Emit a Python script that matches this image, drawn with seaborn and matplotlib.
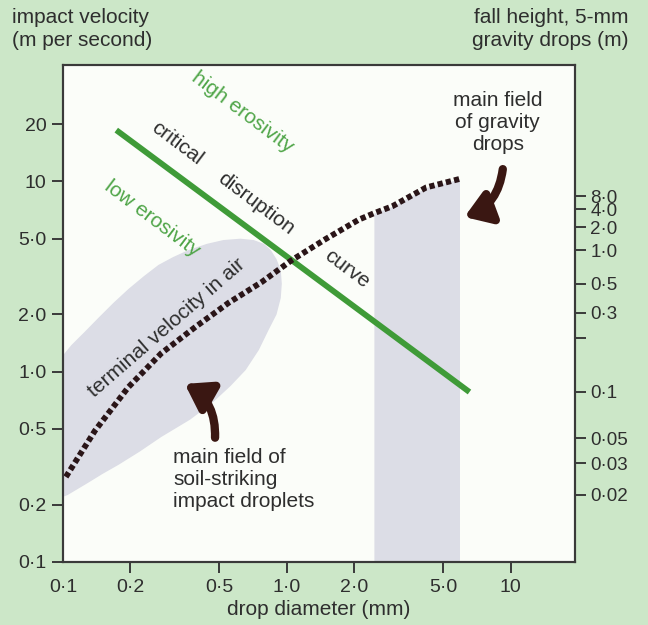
import numpy as np
import pandas as pd
import matplotlib
matplotlib.use("Agg")
import matplotlib.pyplot as plt
import seaborn as sns
from matplotlib.ticker import FixedLocator, FixedFormatter, NullLocator

# ---------------- data ----------------
drop_diam_ticks = [0.1, 0.2, 0.5, 1.0, 2.0, 5.0, 10]
drop_diam_labels = ["0·1", "0·2", "0·5", "1·0", "2·0", "5·0", "10"]
velocity_ticks = [0.1, 0.2, 0.5, 1.0, 2.0, 5.0, 10, 20]
velocity_labels = ["0·1", "0·2", "0·5", "1·0", "2·0", "5·0", "10", "20"]
# right axis: fall height (m) of 5-mm drops, placed at equivalent impact velocity
fall_height_tick_velocity = [8.38, 7.14, 5.74, 4.36, 2.89, 2.04, 1.50, 0.785, 0.447, 0.330, 0.225]
fall_height_labels = ["8·0", "4·0", "2·0", "1·0", "0·5", "0·3", "", "0·1", "0·05", "0·03", "0·02"]

# terminal velocity in air (dotted curve)
terminal_diam = [0.103, 0.139, 0.196, 0.275, 0.391, 0.549, 0.773, 1.05, 1.5, 2.1, 2.45, 2.96, 4.2, 5.91]
terminal_vel = [0.28, 0.49, 0.83, 1.25, 1.72, 2.3, 2.96, 3.85, 5.0, 6.3, 6.8, 7.4, 9.3, 10.3]

# critical disruption curve (green)
critical_diam = [0.173, 6.55]
critical_vel = [18.6, 0.782]

# main field of soil-striking impact droplets (outline)
soil_field_diam = [0.1, 0.109, 0.125, 0.144, 0.168, 0.196, 0.23, 0.267, 0.31, 0.364, 0.44, 0.521,
                   0.62, 0.711, 0.79, 0.848, 0.9, 0.94, 0.95, 0.94, 0.9, 0.83, 0.75, 0.655,
                   0.56, 0.461, 0.37, 0.275, 0.22, 0.177, 0.15, 0.129, 0.105, 0.1]
soil_field_vel = [1.22, 1.38, 1.62, 1.92, 2.3, 2.72, 3.18, 3.64, 4.0, 4.36, 4.7, 4.92,
                  5.0, 4.92, 4.7, 4.36, 3.9, 3.42, 2.9, 2.44, 2.0, 1.66, 1.3, 1.02,
                  0.84, 0.68, 0.56, 0.454, 0.38, 0.324, 0.29, 0.26, 0.225, 0.22]

# main field of gravity drops: diameters from this value up to the end of the terminal curve
gravity_field_min_diam = 2.45

x_limits = (0.1, 19.4)
y_limits = (0.1, 40.9)

# ---------------- style ----------------
sns.set_theme(style="ticks")
plt.rcParams["font.family"] = ["Liberation Sans", "DejaVu Sans"]

BG = "#cce7c8"
TXT = "#2e2e2e"
GREEN_LINE = "#3f9b38"
GREEN_TXT = "#4fa548"
DOT = "#2a1518"
FIELD = "#dcdde6"
ARROW = "#3a1712"
SPINE = "#3a3a3a"
FS = 15

fig = plt.figure(figsize=(6.48, 6.25), dpi=100, facecolor=BG)
ax = fig.add_axes([63 / 648, 1 - 562 / 625, 512 / 648, 497 / 625])
ax.set_facecolor("#fbfdf9")
ax.set_xscale("log")
ax.set_yscale("log")
ax.set_xlim(*x_limits)
ax.set_ylim(*y_limits)

# fields
ax.fill(soil_field_diam, soil_field_vel, color=FIELD, lw=0, zorder=1)
td = np.array(terminal_diam)
tv = np.array(terminal_vel)
mask = td >= gravity_field_min_diam
ax.fill_between(td[mask], y_limits[0], tv[mask], color=FIELD, lw=0, zorder=1)

# curves
sns.lineplot(x=critical_diam, y=critical_vel, ax=ax, color=GREEN_LINE, lw=4.2,
             solid_capstyle="butt", sort=False, estimator=None, zorder=3)
sns.lineplot(x=terminal_diam, y=terminal_vel, ax=ax, color=DOT, lw=4.2,
             linestyle=(0, (0.9, 0.55)), dash_capstyle="butt", sort=False,
             estimator=None, zorder=4)

# ticks
ax.xaxis.set_major_locator(FixedLocator(drop_diam_ticks))
ax.xaxis.set_major_formatter(FixedFormatter(drop_diam_labels))
ax.xaxis.set_minor_locator(NullLocator())
ax.yaxis.set_major_locator(FixedLocator(velocity_ticks))
ax.yaxis.set_major_formatter(FixedFormatter(velocity_labels))
ax.yaxis.set_minor_locator(NullLocator())
ax.tick_params(axis="both", which="major", direction="out", length=8, width=1.4,
               color=SPINE, labelcolor=TXT, labelsize=14, pad=4)
# no tick marks at the lower-left corner (labels only)
ax.xaxis.get_major_ticks()[0].tick1line.set_visible(False)
ax.yaxis.get_major_ticks()[0].tick1line.set_visible(False)

ax2 = ax.twinx()
ax2.set_yscale("log")
ax2.set_ylim(*y_limits)
ax2.yaxis.set_major_locator(FixedLocator(fall_height_tick_velocity))
ax2.yaxis.set_major_formatter(FixedFormatter(fall_height_labels))
ax2.yaxis.set_minor_locator(NullLocator())
ax2.tick_params(axis="y", direction="out", length=8, width=1.4, color=SPINE,
                labelcolor=TXT, labelsize=13.5, pad=3)

for a in (ax, ax2):
    for s in a.spines.values():
        s.set_visible(True)
        s.set_color(SPINE)
        s.set_linewidth(1.5)

ax.set_xlabel("drop diameter (mm)", fontsize=FS, color=TXT, labelpad=3)

fig.text(12 / 648, 1 - 8 / 625, "impact velocity\n(m per second)", ha="left", va="top",
         fontsize=FS, color=TXT, linespacing=1.3)
fig.text(628 / 648, 1 - 8 / 625, "fall height, 5-mm\ngravity drops (m)", ha="right", va="top",
         fontsize=FS, color=TXT, linespacing=1.3, multialignment="right")

# annotations
rot = -37
ax.text(0.633, 23.0, "high erosivity", color=GREEN_TXT, fontsize=FS, rotation=rot,
        rotation_mode="anchor", ha="center", va="center", zorder=5)
ax.text(0.249, 6.35, "low erosivity", color=GREEN_TXT, fontsize=FS, rotation=rot,
        rotation_mode="anchor", ha="center", va="center", zorder=5)
ax.text(0.322, 15.9, "critical", color=TXT, fontsize=FS, rotation=rot,
        rotation_mode="anchor", ha="center", va="center", zorder=5)
ax.text(0.732, 7.63, "disruption", color=TXT, fontsize=FS, rotation=rot,
        rotation_mode="anchor", ha="center", va="center", zorder=5)
ax.text(1.85, 3.45, "curve", color=TXT, fontsize=FS, rotation=rot,
        rotation_mode="anchor", ha="center", va="center", zorder=5)
ax.text(0.29, 1.69, "terminal velocity in air", color=TXT, fontsize=FS, rotation=41,
        rotation_mode="anchor", ha="center", va="center", zorder=5)
ax.text(0.31, 0.27, "main field of\nsoil-striking\nimpact droplets", color=TXT, fontsize=FS,
        ha="left", va="center", linespacing=1.2, zorder=5)
ax.text(8.77, 20.4, "main field\nof gravity\ndrops", color=TXT, fontsize=FS,
        ha="center", va="center", linespacing=1.2, multialignment="center", zorder=5)

arrow_props = dict(arrowstyle="-|>,head_length=0.75,head_width=0.5", lw=6,
                   color=ARROW, shrinkA=0, shrinkB=0, mutation_scale=20)
ax.annotate("", xy=(6.22, 6.5), xytext=(9.23, 11.6),
            arrowprops=dict(connectionstyle="arc3,rad=-0.3", **arrow_props), zorder=6)
ax.annotate("", xy=(0.35, 0.863), xytext=(0.478, 0.45),
            arrowprops=dict(connectionstyle="arc3,rad=0.3", **arrow_props), zorder=6)

fig.savefig("out.png", dpi=100, facecolor=BG)
